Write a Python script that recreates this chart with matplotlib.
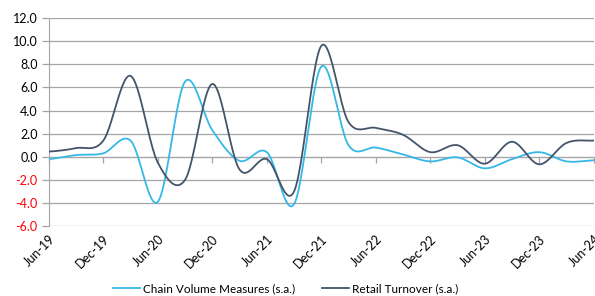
import numpy as np
import matplotlib

matplotlib.use("Agg")
import matplotlib.pyplot as plt

plt.rcParams["font.family"] = ["Lato", "DejaVu Sans"]

TICK_LABELS = ["Jun-19", "Dec-19", "Jun-20", "Dec-20", "Jun-21", "Dec-21",
               "Jun-22", "Dec-22", "Jun-23", "Dec-23", "Jun-24"]

# quarterly, Jun-19 .. Jun-24
CHAIN_VOLUME = [-0.2, 0.15, 0.3, 1.4, -3.9, 6.5, 2.3, -0.35, 0.4, -4.1, 7.8,
                1.0, 0.8, 0.2, -0.4, -0.05, -1.0, -0.2, 0.4, -0.4, -0.3]
RETAIL_TURNOVER = [0.45, 0.75, 1.4, 7.0, -0.5, -2.0, 6.3, -1.1, -0.2, -3.0, 9.6,
                   3.0, 2.5, 1.9, 0.4, 1.0, -0.6, 1.3, -0.65, 1.2, 1.4]

LIGHT = "#35B8E8"
DARK = "#44546A"
GRID = "#A6A6A6"


def catmull_rom(values, steps=24):
    """Smooth line through the points, like Excel's smoothed line option."""
    y = np.asarray(values, dtype=float)
    p = np.concatenate([[y[0]], y, [y[-1]]])
    xs, ys = [], []
    t = np.linspace(0, 1, steps, endpoint=False)
    for i in range(len(y) - 1):
        p0, p1, p2, p3 = p[i], p[i + 1], p[i + 2], p[i + 3]
        seg = 0.5 * ((2 * p1) + (-p0 + p2) * t
                     + (2 * p0 - 5 * p1 + 4 * p2 - p3) * t ** 2
                     + (-p0 + 3 * p1 - 3 * p2 + p3) * t ** 3)
        xs.append(i + t)
        ys.append(seg)
    xs.append([len(y) - 1])
    ys.append([y[-1]])
    return np.concatenate(xs), np.concatenate(ys)


fig = plt.figure(figsize=(5.95, 2.96), dpi=100)
ax = fig.add_axes([0.082, 0.236, 0.916, 0.703])

for values, color, label in [(CHAIN_VOLUME, LIGHT, "Chain Volume Measures (s.a.)"),
                             (RETAIL_TURNOVER, DARK, "Retail Turnover (s.a.)")]:
    xs, ys = catmull_rom(values)
    ax.plot(xs, ys, color=color, linewidth=1.3, label=label, zorder=3)

n = len(CHAIN_VOLUME)
yticks = np.arange(-6, 12.1, 2)
ax.set_xlim(0, n - 1)
ax.set_ylim(-6, 12)
ax.set_yticks(yticks)
ax.set_yticklabels([f"{v:.1f}" for v in yticks], fontsize=9)
for lab, v in zip(ax.get_yticklabels(), yticks):
    lab.set_color("#FF0000" if v < 0 else "#000000")
ax.grid(axis="y", color=GRID, linewidth=0.9)
ax.set_axisbelow(True)
ax.tick_params(axis="y", length=5, color=GRID, width=0.9, pad=3)

for side in ["top", "right"]:
    ax.spines[side].set_visible(False)
ax.spines["left"].set_color(GRID)
ax.spines["bottom"].set_position(("data", 0))
ax.spines["bottom"].set_color(GRID)
ax.spines["bottom"].set_zorder(2)

tick_pos = np.arange(0, n, 2)
ax.set_xticks(tick_pos)
ax.tick_params(axis="x", length=4, color=GRID, width=0.9, labelbottom=False)

sec = ax.secondary_xaxis(0.0)
sec.set_xticks(tick_pos)
sec.set_xticklabels(TICK_LABELS, rotation=45, ha="right", rotation_mode="anchor", fontsize=9)
sec.tick_params(length=0, pad=5)
sec.spines["bottom"].set_visible(False)

fig.legend(loc="lower center", bbox_to_anchor=(0.48, -0.03), ncol=2, frameon=False,
           fontsize=8.5, handlelength=2.3, columnspacing=2.2, handletextpad=0.3)

fig.savefig("out.png", dpi=100)
